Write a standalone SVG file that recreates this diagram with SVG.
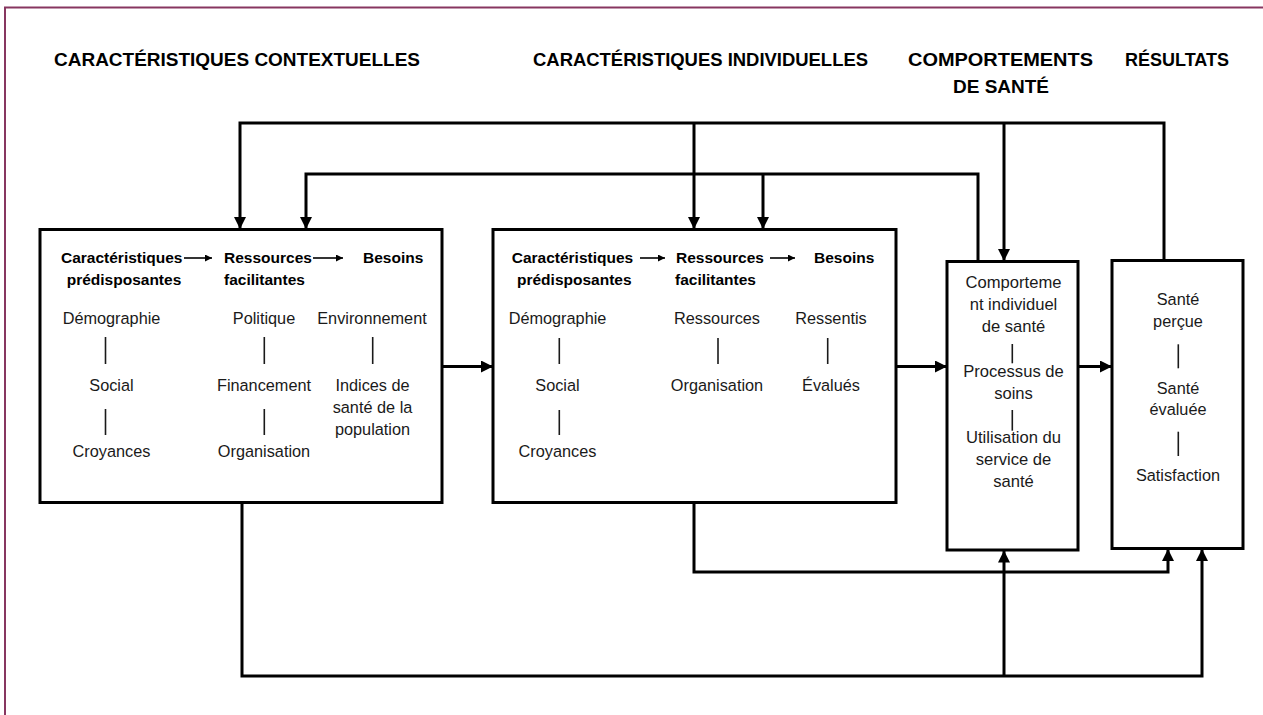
<svg xmlns="http://www.w3.org/2000/svg" width="1263" height="715" viewBox="0 0 1263 715">
<defs>
<marker id="ah" viewBox="0 0 12 12" refX="12" refY="6" markerWidth="12" markerHeight="12" markerUnits="userSpaceOnUse" orient="auto">
<path d="M0,0 L12,6 L0,12 z" fill="#000"/>
</marker>
<marker id="ahs" viewBox="0 0 8 8" refX="8" refY="4" markerWidth="8" markerHeight="7" markerUnits="userSpaceOnUse" orient="auto">
<path d="M0,0 L8,4 L0,8 z" fill="#000"/>
</marker>
</defs>
<style>
.hdr{font-family:"Liberation Sans",Arial,sans-serif;font-weight:bold;font-size:19px;fill:#000}
.b{font-family:"Liberation Sans",Arial,sans-serif;font-weight:bold;font-size:15.5px;fill:#000}
.r{font-family:"Liberation Sans",Arial,sans-serif;font-size:16.3px;fill:#1a1a1a;text-anchor:middle}
.r3{font-family:"Liberation Sans",Arial,sans-serif;font-size:16.6px;fill:#1a1a1a;text-anchor:middle}
.box{fill:#fff;stroke:#000;stroke-width:3}
.con{fill:none;stroke:#000;stroke-width:3}
.bar{stroke:#1a1a1a;stroke-width:1.6}
.sa{stroke:#000;stroke-width:1.6;marker-end:url(#ahs)}
</style>
<rect width="1263" height="715" fill="#fff"/>
<path d="M5,715 V7.5 H1263" fill="none" stroke="#873660" stroke-width="2"/>

<g id="headers">
<text class="hdr" x="54" y="66" textLength="366" lengthAdjust="spacingAndGlyphs">CARACTÉRISTIQUES CONTEXTUELLES</text>
<text class="hdr" x="533" y="66" textLength="335" lengthAdjust="spacingAndGlyphs">CARACTÉRISTIQUES INDIVIDUELLES</text>
<text class="hdr" x="908" y="66" textLength="185" lengthAdjust="spacingAndGlyphs">COMPORTEMENTS</text>
<text class="hdr" x="1001" y="93" text-anchor="middle">DE SANTÉ</text>
<text class="hdr" x="1125" y="66" textLength="104" lengthAdjust="spacingAndGlyphs">RÉSULTATS</text>
</g>

<g id="connectors">
<path class="con" d="M1164,260 V123 H240 V229" marker-end="url(#ah)"/>
<path class="con" d="M694,123 V229" marker-end="url(#ah)"/>
<path class="con" d="M1004,123 V261" marker-end="url(#ah)"/>
<path class="con" d="M978,261 V174 H306 V229" marker-end="url(#ah)"/>
<path class="con" d="M763,174 V229" marker-end="url(#ah)"/>
<path class="con" d="M442,366.5 H493" marker-end="url(#ah)"/>
<path class="con" d="M896,366.5 H947" marker-end="url(#ah)"/>
<path class="con" d="M1078,366.5 H1112" marker-end="url(#ah)"/>
<path class="con" d="M694,502 V572 H1168 V549" marker-end="url(#ah)"/>
<path class="con" d="M242,502 V676 H1202 V549" marker-end="url(#ah)"/>
<path class="con" d="M1004,676 V550.5" marker-end="url(#ah)"/>
</g>

<g id="contextuelles">
<rect class="box" x="40" y="229.5" width="402" height="273"/>
<text class="b" x="61" y="262.7">Caractéristiques</text>
<text class="b" x="66.7" y="285">prédisposantes</text>
<line class="sa" x1="184" y1="258" x2="212" y2="258"/>
<text class="b" x="224" y="262.7">Ressources</text>
<text class="b" x="224" y="285">facilitantes</text>
<line class="sa" x1="313" y1="258" x2="343" y2="258"/>
<text class="b" x="363" y="262.7">Besoins</text>
<text class="r" x="111.5" y="324">Démographie</text>
<line class="bar" x1="105.5" y1="337" x2="105.5" y2="364"/>
<text class="r" x="111.5" y="391">Social</text>
<line class="bar" x1="105.5" y1="409" x2="105.5" y2="435"/>
<text class="r" x="111.5" y="457">Croyances</text>
<text class="r" x="264" y="324">Politique</text>
<line class="bar" x1="264.3" y1="337" x2="264.3" y2="364"/>
<text class="r" x="264" y="391">Financement</text>
<line class="bar" x1="264.3" y1="409" x2="264.3" y2="435"/>
<text class="r" x="264" y="457">Organisation</text>
<text class="r" x="372" y="324">Environnement</text>
<line class="bar" x1="372.7" y1="337" x2="372.7" y2="364"/>
<text class="r" x="372.5" y="391">Indices de</text>
<text class="r" x="372.5" y="413">santé de la</text>
<text class="r" x="372.5" y="435">population</text>
</g>

<g id="individuelles">
<rect class="box" x="493" y="229.5" width="403" height="273"/>
<text class="b" x="511.7" y="262.7">Caractéristiques</text>
<text class="b" x="517" y="285">prédisposantes</text>
<line class="sa" x1="640" y1="258" x2="665" y2="258"/>
<text class="b" x="676" y="262.7">Ressources</text>
<text class="b" x="675" y="285">facilitantes</text>
<line class="sa" x1="770" y1="258" x2="795" y2="258"/>
<text class="b" x="814" y="262.7">Besoins</text>
<text class="r" x="557.5" y="324">Démographie</text>
<line class="bar" x1="559.3" y1="338" x2="559.3" y2="364"/>
<text class="r" x="557.5" y="391">Social</text>
<line class="bar" x1="559.3" y1="410" x2="559.3" y2="435"/>
<text class="r" x="557.5" y="457">Croyances</text>
<text class="r" x="717" y="324">Ressources</text>
<line class="bar" x1="718" y1="338" x2="718" y2="364"/>
<text class="r" x="717" y="391">Organisation</text>
<text class="r" x="831" y="324">Ressentis</text>
<line class="bar" x1="827.7" y1="338" x2="827.7" y2="364"/>
<text class="r" x="831" y="391">Évalués</text>
</g>

<g id="comportements">
<rect class="box" x="947" y="261.5" width="131" height="288.5"/>
<text class="r3" x="1013.5" y="288">Comporteme</text>
<text class="r3" x="1013.5" y="310">nt individuel</text>
<text class="r3" x="1013.5" y="332">de santé</text>
<line class="bar" x1="1012.3" y1="344" x2="1012.3" y2="363.3"/>
<text class="r3" x="1013.5" y="376.5">Processus de</text>
<text class="r3" x="1013.5" y="398.5">soins</text>
<line class="bar" x1="1012.3" y1="410" x2="1012.3" y2="430.7"/>
<text class="r3" x="1013.5" y="443">Utilisation du</text>
<text class="r3" x="1013.5" y="465">service de</text>
<text class="r3" x="1013.5" y="487">santé</text>
</g>

<g id="resultats">
<rect class="box" x="1112" y="260.5" width="131" height="288"/>
<text class="r" x="1178" y="305">Santé</text>
<text class="r" x="1178" y="327">perçue</text>
<line class="bar" x1="1178.3" y1="344.3" x2="1178.3" y2="368.3"/>
<text class="r" x="1178" y="393.5">Santé</text>
<text class="r" x="1178" y="415">évaluée</text>
<line class="bar" x1="1178.3" y1="431.7" x2="1178.3" y2="456"/>
<text class="r" x="1178" y="481">Satisfaction</text>
</g>
</svg>
